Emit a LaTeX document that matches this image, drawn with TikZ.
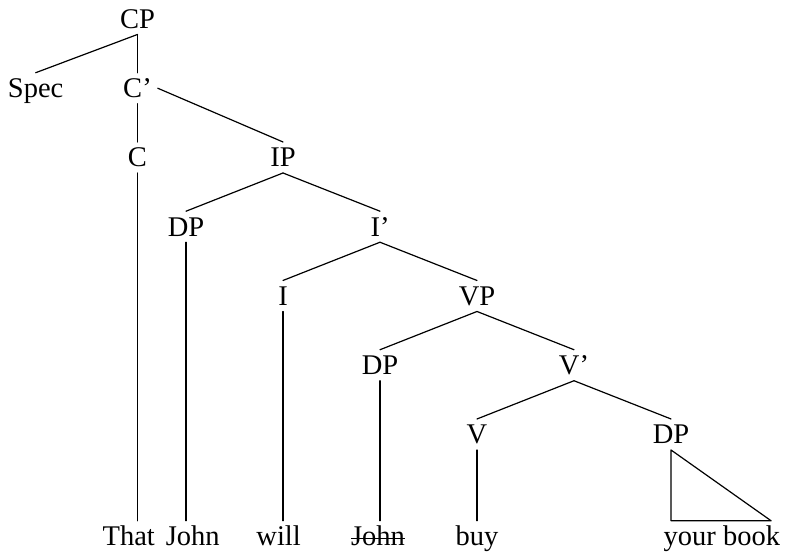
\documentclass[tikz,border=0pt]{standalone}
\usepackage{fontspec}
\setmainfont{Liberation Serif}
\newcommand{\struck}[1]{\setbox0\hbox{#1}\rlap{\rule[6.5bp]{\wd0}{1.2bp}}\box0}
\begin{document}
\begin{tikzpicture}[x=48.5bp,y=69.25bp,line join=round,line cap=round,line width=1.2bp,
	every node/.style={font=\fontsize{28.5bp}{34bp}\selectfont,inner sep=6bp,outer sep=0,
	text height=19bp,text depth=0pt}]
	\useasboundingbox (-2.835,0.274) rectangle (13.433,-7.755);
	\path(0,0)node(cp){CP}
	++(-2.1,-1)node(spec){Spec}
	(cp)++(0,-1)node(cbar){C'}
	;
	\path
	(cbar)++(0,-1)node(c){C}
	(cbar)++(3,-1)node(ip){IP};
	\path (ip)++(-2,-1)node(dpa){DP}
	(ip)++(2,-1)node(ibar){I'}
	;
	\path
	(ibar)++(-2,-1)node(i){I}
	(ibar)++(2,-1)node(vp){VP};
	\path (vp)++(-2,-1)node(dpb){DP}
	(vp)++(2,-1)node(vbar){V'}
	;
	\path
	(vbar)++(-2,-1)node(v){V}
	(vbar)++(2,-1)node(dpc){DP};
	\path (c)++(-0.18,-5.47)node(that){That}
	(dpa)++(0.14,-4.47)node(john){John}
	(i)++(-0.09,-3.47)node(will){will}
	(dpb)++(-0.04,-2.47)node(johnb){\struck{John}}
	(v)++(0,-1.47)node(buy){buy}
	(dpc)++(1.05,-1.47)node(book){your book}
	;
	\draw(cp.south)--(spec.north);
	\draw(cp.south)--(cbar.north);
	\draw(cbar.south)--(c.north);
	\draw(cbar.east)--(ip.north);
	\draw(ip.south)--(dpa.north);
	\draw(ip.south)--(ibar.north);
	\draw(ibar.south)--(i.north);
	\draw(ibar.south)--(vp.north);
	\draw(vp.south)--(dpb.north);
	\draw(vp.south)--(vbar.north);
	\draw(vbar.south)--(v.north);
	\draw(vbar.south)--(dpc.north);
	\draw(c.south)--(c.south|-that.north);
	\draw(dpa.south)--(dpa.south|-john.north);
	\draw(i.south)--(i.south|-will.north);
	\draw(dpb.south)--(dpb.south|-johnb.north);
	\draw(v.south)--(v.south|-buy.north);
	\draw(dpc.south)--(dpc.south|-book.north)--([xshift=-15bp]book.north east)--cycle;
\end{tikzpicture}
\end{document}
